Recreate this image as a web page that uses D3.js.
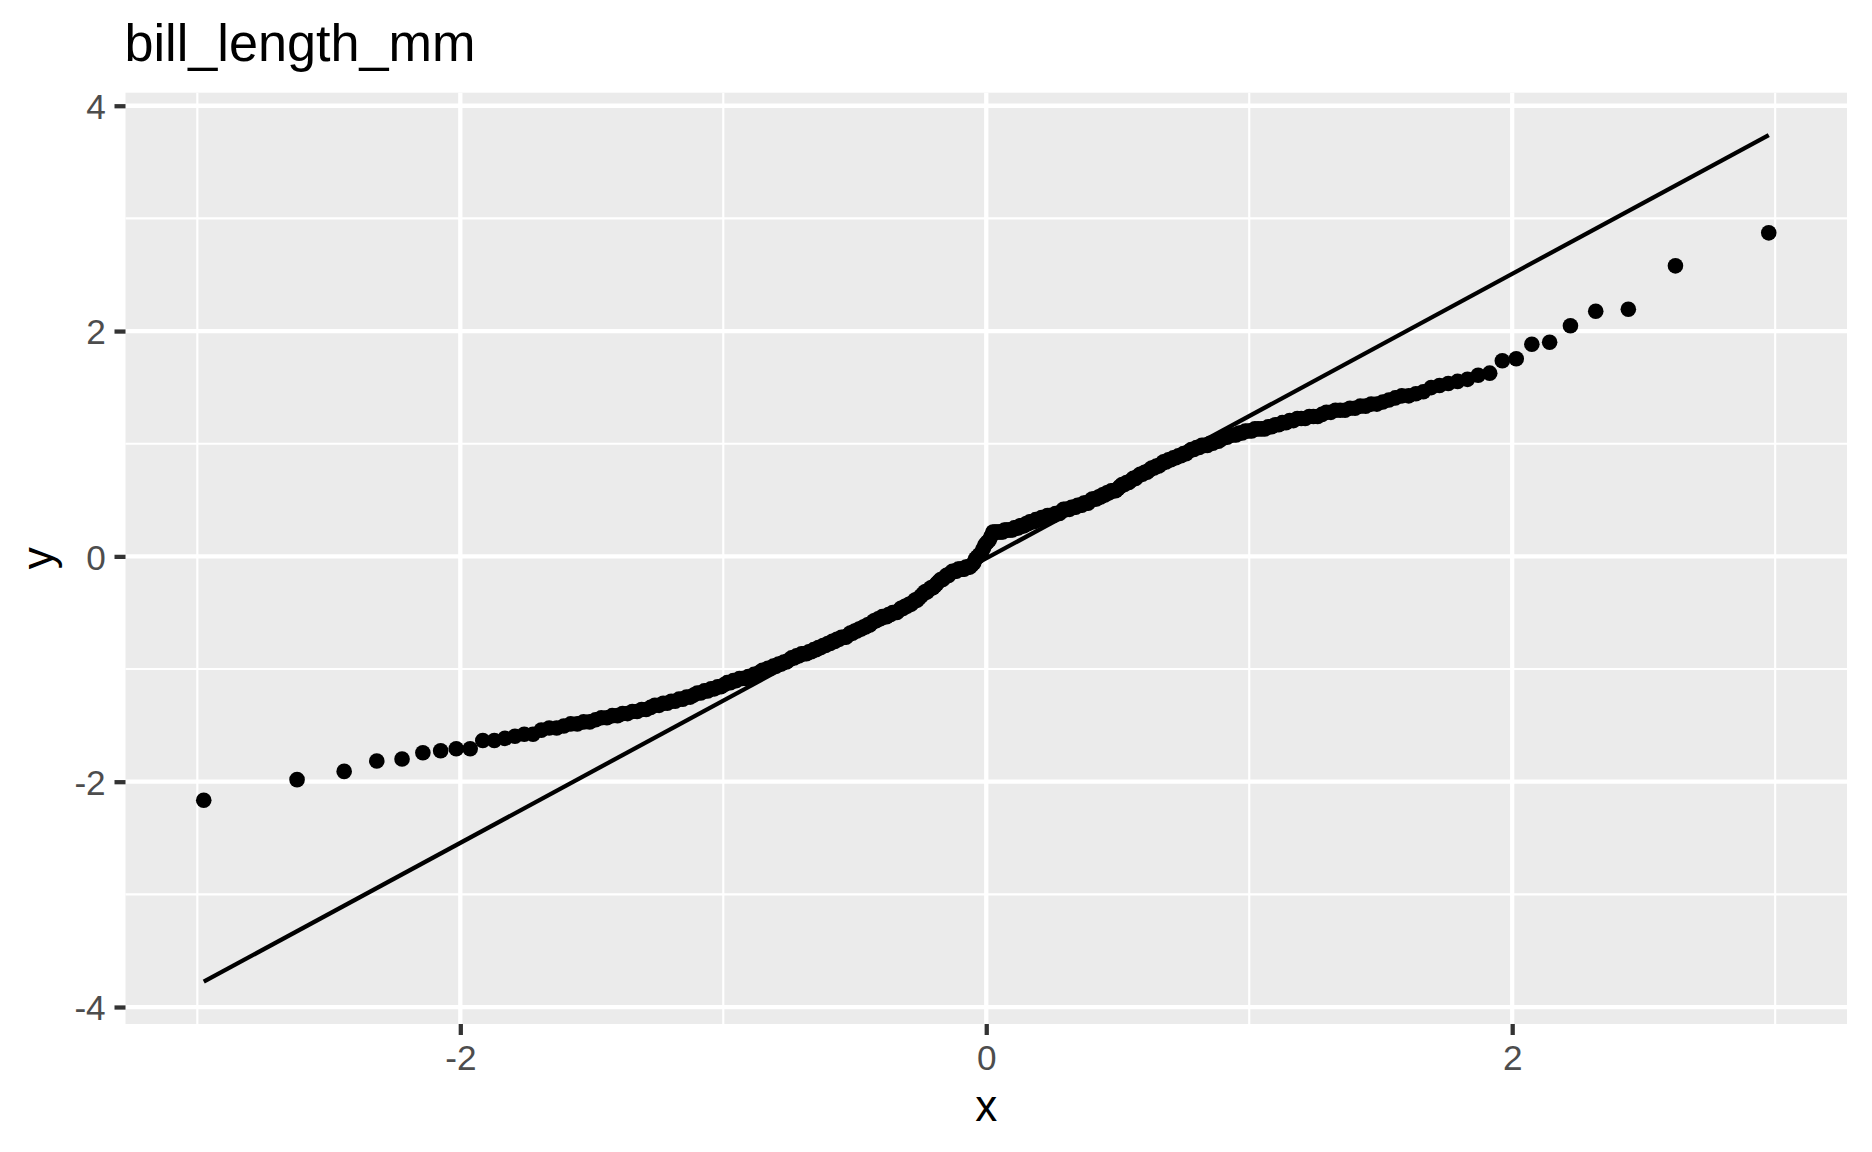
<!DOCTYPE html>
<html>
<head>
<meta charset="utf-8">
<script src="https://cdn.jsdelivr.net/npm/d3@7"></script>
<style>
  html, body { margin: 0; padding: 0; background: #ffffff; }
  svg { display: block; }
  text { font-family: "Liberation Sans", Arial, Helvetica, sans-serif; }
</style>
</head>
<body>
<svg id="chart" width="1872" height="1152"></svg>
<script>
// ---- data: sorted bill lengths in mm ----
const billLength = [
  32.1, 33.1, 33.5, 34.0, 34.1, 34.4, 34.5, 34.6, 34.6,
  35.0, 35.0, 35.1, 35.2, 35.3, 35.3,
  35.5, 35.6, 35.6, 35.7, 35.8, 35.8, 35.9, 35.9,
  36.0, 36.1, 36.1, 36.2, 36.2, 36.3, 36.3, 36.4, 36.4, 36.5,
  36.5, 36.6, 36.7, 36.7, 36.8, 36.8,
  36.9, 36.9, 37.0, 37.0, 37.1, 37.1, 37.2,
  37.3, 37.3, 37.4, 37.4, 37.5, 37.5, 37.6, 37.6,
  37.7, 37.8, 37.8, 37.9, 37.9, 38.0, 38.0, 38.0, 38.1,
  38.1, 38.2, 38.2, 38.3, 38.4, 38.4, 38.5, 38.5, 38.6, 38.6,
  38.7, 38.7, 38.8, 38.8, 38.9, 39.0, 39.0, 39.1, 39.1, 39.2,
  39.2, 39.2, 39.3, 39.3, 39.4, 39.4, 39.5, 39.5, 39.6, 39.6, 39.7,
  39.7, 39.8, 39.8, 39.9, 39.9, 40.0, 40.0, 40.0, 40.1, 40.2, 40.2, 40.3,
  40.3, 40.4, 40.4, 40.5, 40.5, 40.6, 40.6, 40.7, 40.8, 40.8, 40.9, 40.9,
  41.0, 41.0, 41.0, 41.1, 41.1, 41.2, 41.2, 41.2, 41.3, 41.4, 41.4, 41.5, 41.5,
  41.6, 41.6, 41.7, 41.8, 41.8, 41.9, 42.0, 42.1, 42.2, 42.2, 42.3, 42.4, 42.4,
  42.5, 42.6, 42.7, 42.8, 42.8, 42.9, 43.0, 43.0,
  43.1, 43.2, 43.2, 43.2, 43.3,
  43.3, 43.3, 43.3, 43.4, 43.4, 43.4,
  43.5, 43.6, 43.8, 43.9, 44.0, 44.1,
  44.3, 44.5, 44.6, 44.7, 44.9, 45.1,
  45.1, 45.1, 45.1,
  45.1, 45.1, 45.2, 45.2, 45.2, 45.2, 45.2,
  45.3, 45.3, 45.3, 45.4, 45.4, 45.4, 45.5, 45.5, 45.6, 45.6, 45.6, 45.7, 45.7,
  45.7, 45.8, 45.8, 45.8, 45.9, 45.9, 45.9, 45.9, 46.0, 46.0, 46.0, 46.1, 46.2,
  46.2, 46.2, 46.2, 46.3, 46.3, 46.3, 46.4, 46.4, 46.4, 46.5, 46.5, 46.5, 46.6,
  46.7, 46.7, 46.7, 46.8, 46.8, 46.9, 46.9, 47.0, 47.0, 47.1, 47.1, 47.1, 47.2,
  47.3, 47.4, 47.4, 47.5, 47.5, 47.6, 47.7, 47.7, 47.8, 47.9, 47.9,
  48.0, 48.0, 48.1, 48.2, 48.2, 48.3, 48.3, 48.4, 48.5, 48.5, 48.6,
  48.6, 48.7, 48.7, 48.8, 48.8, 48.9, 48.9, 49.0, 49.1, 49.1, 49.2,
  49.2, 49.3, 49.3, 49.3, 49.4, 49.4, 49.5, 49.5, 49.6,
  49.7, 49.7, 49.8, 49.8, 49.8, 49.9, 49.9, 50.0, 50.0,
  50.0, 50.1, 50.1, 50.1, 50.1, 50.2, 50.2, 50.3,
  50.3, 50.4, 50.4, 50.5, 50.5, 50.6, 50.6,
  50.6, 50.7, 50.7, 50.7, 50.8, 50.9,
  50.9, 51.0, 51.0, 51.0, 51.1,
  51.1, 51.2, 51.2, 51.3, 51.3,
  51.4, 51.5, 51.6, 51.7,
  51.7, 51.8, 51.9, 52.1,
  52.2, 52.3, 52.4, 52.5,
  52.7, 52.8, 53.4, 53.5, 54.2, 54.3, 55.1, 55.8, 55.9, 58.0, 59.6
];
// scaling used by the chart (sample mean and sd of bill_length_mm)
const billMean = 43.92;
const billSd = 5.46;

// reference line end values (y at the theoretical min / max)
const lineY = [-3.775, 3.74];

const xTicks = [-2, 0, 2];
const yTicks = [-4, -2, 0, 2, 4];
const xMinor = [-3, -1, 1, 3];
const yMinor = [-3, -1, 1, 3];
const titleText = "bill_length_mm";
const xLabel = "x";
const yLabel = "y";

// ---- stat_qq: theoretical normal quantiles of ppoints(n) ----
function qnorm(p) {
  const a = [-3.969683028665376e+01, 2.209460984245205e+02, -2.759285104469687e+02,
             1.383577518672690e+02, -3.066479806614716e+01, 2.506628277459239e+00];
  const b = [-5.447609879822406e+01, 1.615858368580409e+02, -1.556989798598866e+02,
             6.680131188771972e+01, -1.328068155288572e+01];
  const c = [-7.784894002430293e-03, -3.223964580411365e-01, -2.400758277161838e+00,
             -2.549671348874629e+00, 4.374664141464968e+00, 2.938163982698783e+00];
  const d = [7.784695709041462e-03, 3.224671290700398e-01, 2.445134137142996e+00,
             3.754408661907416e+00];
  const plow = 0.02425, phigh = 1 - plow;
  let q, r;
  if (p < plow) {
    q = Math.sqrt(-2 * Math.log(p));
    return (((((c[0]*q+c[1])*q+c[2])*q+c[3])*q+c[4])*q+c[5]) /
           ((((d[0]*q+d[1])*q+d[2])*q+d[3])*q+1);
  } else if (p <= phigh) {
    q = p - 0.5; r = q*q;
    return (((((a[0]*r+a[1])*r+a[2])*r+a[3])*r+a[4])*r+a[5])*q /
           (((((b[0]*r+b[1])*r+b[2])*r+b[3])*r+b[4])*r+1);
  } else {
    q = Math.sqrt(-2 * Math.log(1 - p));
    return -(((((c[0]*q+c[1])*q+c[2])*q+c[3])*q+c[4])*q+c[5]) /
            ((((d[0]*q+d[1])*q+d[2])*q+d[3])*q+1);
  }
}
const sampleY = billLength.map(v => (v - billMean) / billSd).sort((u, v) => u - v);
const n = sampleY.length;
const aOff = n <= 10 ? 3/8 : 0.5;
const points = sampleY.map((y, i) => ({ x: qnorm((i + 1 - aOff) / (n + 1 - 2*aOff)), y }));
const lineData = [
  { x: points[0].x, y: lineY[0] },
  { x: points[n - 1].x, y: lineY[1] }
];

// ---- layout ----
const panel = { left: 125.5, right: 1847, top: 92.7, bottom: 1024 };
const svg = d3.select("#chart");

function expand(ext) {
  const pad = (ext[1] - ext[0]) * 0.05;
  return [ext[0] - pad, ext[1] + pad];
}
const xExt = d3.extent(points, d => d.x);
const yExt = d3.extent(points.map(d => d.y).concat(lineY));

const x = d3.scaleLinear().domain(expand(xExt)).range([panel.left, panel.right]);
const y = d3.scaleLinear().domain(expand(yExt)).range([panel.bottom, panel.top]);

const LW = 4.27;

// panel background
svg.append("rect")
  .attr("x", panel.left).attr("y", panel.top)
  .attr("width", panel.right - panel.left).attr("height", panel.bottom - panel.top)
  .attr("fill", "#EBEBEB");

const grid = svg.append("g");
grid.selectAll(".vminor").data(xMinor).enter().append("line")
  .attr("x1", d => x(d)).attr("x2", d => x(d))
  .attr("y1", panel.top).attr("y2", panel.bottom)
  .attr("stroke", "#ffffff").attr("stroke-width", LW / 2);
grid.selectAll(".hminor").data(yMinor).enter().append("line")
  .attr("y1", d => y(d)).attr("y2", d => y(d))
  .attr("x1", panel.left).attr("x2", panel.right)
  .attr("stroke", "#ffffff").attr("stroke-width", LW / 2);
grid.selectAll(".vmajor").data(xTicks).enter().append("line")
  .attr("x1", d => x(d)).attr("x2", d => x(d))
  .attr("y1", panel.top).attr("y2", panel.bottom)
  .attr("stroke", "#ffffff").attr("stroke-width", LW);
grid.selectAll(".hmajor").data(yTicks).enter().append("line")
  .attr("y1", d => y(d)).attr("y2", d => y(d))
  .attr("x1", panel.left).attr("x2", panel.right)
  .attr("stroke", "#ffffff").attr("stroke-width", LW);

// points
svg.append("g").selectAll("circle").data(points).enter().append("circle")
  .attr("cx", d => x(d.x)).attr("cy", d => y(d.y))
  .attr("r", 7.8).attr("fill", "#000000");

// qq line
svg.append("path")
  .datum(lineData)
  .attr("d", d3.line().x(d => x(d.x)).y(d => y(d.y)))
  .attr("fill", "none").attr("stroke", "#000000").attr("stroke-width", LW);

// axes
const xAxis = d3.axisBottom(x).tickValues(xTicks).tickSize(11).tickPadding(8.8)
  .tickFormat(d => String(d));
const gx = svg.append("g").attr("transform", `translate(0,${panel.bottom})`).call(xAxis);
gx.select(".domain").remove();
gx.selectAll(".tick line").attr("stroke", "#333333").attr("stroke-width", LW);
gx.selectAll(".tick text").attr("fill", "#4D4D4D").attr("font-size", 35.2)
  .attr("font-family", '"Liberation Sans", Arial, sans-serif').attr("dy", "0.74em");

const yAxis = d3.axisLeft(y).tickValues(yTicks).tickSize(11).tickPadding(8.8)
  .tickFormat(d => String(d));
const gy = svg.append("g").attr("transform", `translate(${panel.left},0)`).call(yAxis);
gy.select(".domain").remove();
gy.selectAll(".tick line").attr("stroke", "#333333").attr("stroke-width", LW);
gy.selectAll(".tick text").attr("fill", "#4D4D4D").attr("font-size", 35.2)
  .attr("font-family", '"Liberation Sans", Arial, sans-serif').attr("dy", "0.36em");

// titles
svg.append("text")
  .attr("x", 124.5).attr("y", 61)
  .attr("font-size", 52.2).attr("fill", "#000000")
  .text(titleText);

svg.append("text")
  .attr("x", (panel.left + panel.right) / 2).attr("y", 1121)
  .attr("text-anchor", "middle")
  .attr("font-size", 44).attr("fill", "#000000")
  .text(xLabel);

svg.append("text")
  .attr("transform", `translate(53,${(panel.top + panel.bottom) / 2}) rotate(-90)`)
  .attr("text-anchor", "middle")
  .attr("font-size", 44).attr("fill", "#000000")
  .text(yLabel);
</script>
</body>
</html>
